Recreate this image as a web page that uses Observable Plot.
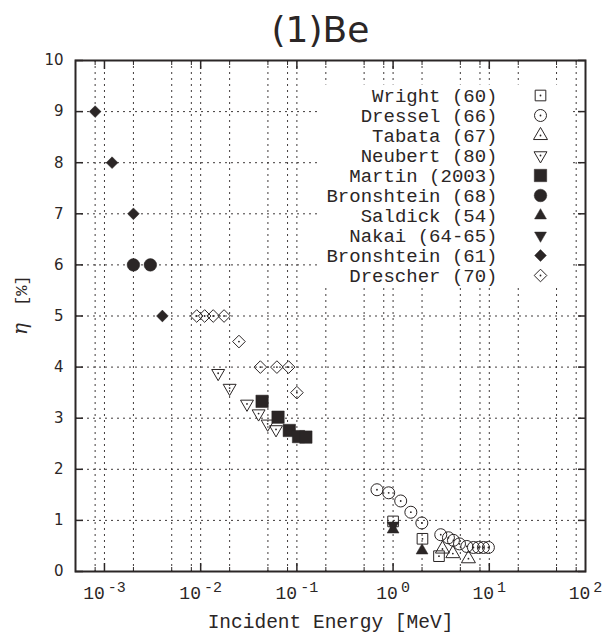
<!DOCTYPE html>
<html>
<head>
<meta charset="utf-8">
<script src="https://cdn.jsdelivr.net/npm/d3@7"></script>
<script src="https://cdn.jsdelivr.net/npm/@observablehq/plot@0.6"></script>
<style>
  body { margin: 0; background: #fff; }
  #chart svg { display: block; background: #fff; }
</style>
</head>
<body>
<div id="chart"></div>
<script>
// Backscattering coefficient η [%] of beryllium vs incident electron energy [MeV]
// Each series: [energy (MeV), eta (%)]
const wright60 = [[1.0, 0.98], [2.02, 0.64], [3.0, 0.30]];
const dressel66 = [[0.68, 1.60], [0.90, 1.54], [1.2, 1.38], [1.53, 1.16], [1.99, 0.95],
  [3.13, 0.72], [3.76, 0.66], [4.24, 0.61], [4.9, 0.54], [5.84, 0.49], [6.84, 0.47],
  [7.71, 0.47], [8.69, 0.47], [9.79, 0.47]];
const tabata67 = [[3.26, 0.44], [4.18, 0.35], [6.07, 0.25]];
const neubert80 = [[0.0152, 3.88], [0.020, 3.59], [0.0303, 3.28], [0.040, 3.09],
  [0.0497, 2.89], [0.0607, 2.78]];
const martin2003 = [[0.0435, 3.33], [0.0637, 3.02], [0.0834, 2.76], [0.104, 2.64], [0.124, 2.63]];
const bronshtein68 = [[0.002, 6.0], [0.003, 6.0]];
const saldick54 = [[1.0, 0.82], [2.0, 0.41]];
const nakai6465 = [[1.0, 0.90]];
const bronshtein61 = [[0.0008, 9.0], [0.0012, 8.0], [0.002, 7.0], [0.004, 5.0]];
const drescher70 = [[0.0091, 5.0], [0.011, 5.0], [0.0135, 5.0], [0.0175, 5.0], [0.025, 4.5],
  [0.0417, 4.0], [0.062, 4.0], [0.082, 4.0], [0.1, 3.5]];

const seriesNames = ["Wright (60)", "Dressel (66)", "Tabata (67)", "Neubert (80)", "Martin (2003)",
  "Bronshtein (68)", "Saldick (54)", "Nakai (64-65)", "Bronshtein (61)", "Drescher (70)"];
const seriesData = [wright60, dressel66, tabata67, neubert80, martin2003,
  bronshtein68, saldick54, nakai6465, bronshtein61, drescher70];

// Axis ticks
const majorE = [1e-3, 1e-2, 1e-1, 1, 10];
const minorE = [8e-4, 2e-3, 5e-3, 8e-3, 2e-2, 5e-2, 8e-2, 0.2, 0.5, 0.8, 2, 5, 8, 20, 50, 80];
const etaTicks = [0, 1, 2, 3, 4, 5, 6, 7, 8, 9, 10];
const etaGrid = [1, 2, 3, 4, 5, 6, 7, 8, 9];

const INK = "#2b2626";
const MONO = "Liberation Mono";

// Marker style per series (same order as seriesNames)
const styles = [
  {symbol: "square", r: 6.0, filled: false},
  {symbol: "circle", r: 6.0, filled: false},
  {symbol: "triangle", r: 5.2, filled: false},
  {symbol: "triangle", r: 4.8, filled: false, rotate: 180},
  {symbol: "square", r: 7.0, filled: true},
  {symbol: "circle", r: 6.3, filled: true},
  {symbol: "triangle", r: 4.4, filled: true},
  {symbol: "triangle", r: 4.4, filled: true, rotate: 180},
  {symbol: "diamond2", r: 5.3, filled: true},
  {symbol: "diamond2", r: 5.7, filled: false}
];

function dotOptions(st, extra) {
  return {
    symbol: st.symbol,
    r: st.r,
    rotate: st.rotate || 0,
    fill: st.filled ? INK : "none",
    stroke: INK,
    strokeWidth: st.filled ? 0.5 : 1,
    ...extra
  };
}

const marks = [];

// dotted grid
marks.push(Plot.gridX([...majorE, ...minorE], {stroke: INK, strokeOpacity: 0.9, strokeDasharray: "2,4", strokeWidth: 1}));
marks.push(Plot.gridY(etaGrid, {stroke: INK, strokeOpacity: 0.9, strokeDasharray: "2,4", strokeWidth: 1}));

// white legend panel
marks.push(Plot.frame({fill: "white", stroke: "none", insetLeft: 243, insetTop: 24, insetRight: 13, insetBottom: 284}));

// data points
seriesData.forEach((data, i) => {
  const st = styles[i];
  marks.push(Plot.dot(data, dotOptions(st, {x: d => d[0], y: d => d[1]})));
  if (!st.filled) {
    marks.push(Plot.dot(data, {x: d => d[0], y: d => d[1], r: 0.9, fill: INK, stroke: "none"}));
  }
});

// legend rows
seriesNames.forEach((name, i) => {
  const st = styles[i];
  const dy = 35 + 20 * i;
  marks.push(Plot.text([name], {
    text: d => d, frameAnchor: "top-right", dx: -88, dy,
    textAnchor: "end", lineAnchor: "middle",
    fontFamily: MONO, fontSize: 19, fill: INK
  }));
  marks.push(Plot.dot([name], dotOptions(st, {frameAnchor: "top-right", dx: -45, dy})));
  if (!st.filled) {
    marks.push(Plot.dot([name], {frameAnchor: "top-right", dx: -45, dy, r: 0.9, fill: INK, stroke: "none"}));
  }
});

// inward tick marks on all four sides
marks.push(Plot.axisX(majorE, {anchor: "bottom", tickSize: 8, dy: -8, fill: "none", stroke: INK, strokeWidth: 1.5, label: null}));
marks.push(Plot.axisX(majorE, {anchor: "top", tickSize: 8, dy: 8, fill: "none", stroke: INK, strokeWidth: 1.5, label: null}));
marks.push(Plot.axisX(minorE, {anchor: "bottom", tickSize: 4, dy: -4, fill: "none", stroke: INK, strokeWidth: 1, label: null}));
marks.push(Plot.axisX(minorE, {anchor: "top", tickSize: 4, dy: 4, fill: "none", stroke: INK, strokeWidth: 1, label: null}));
marks.push(Plot.axisY(etaTicks, {anchor: "left", tickSize: 8, dx: 8, fill: "none", stroke: INK, strokeWidth: 1.5, label: null}));
marks.push(Plot.axisY(etaTicks, {anchor: "right", tickSize: 8, dx: -8, fill: "none", stroke: INK, strokeWidth: 1.5, label: null}));

// tick labels
marks.push(Plot.axisY(etaTicks, {
  anchor: "left", tickSize: 0, tickPadding: 12, label: null,
  tickFormat: d => String(d),
  fontFamily: "DejaVu Sans", fontSize: 15, fill: INK
}));
marks.push(Plot.axisX([...majorE, 100], {
  anchor: "bottom", tickSize: 0, tickPadding: 15, label: null,
  tickFormat: d => "10^" + Math.round(Math.log10(d)),
  fontFamily: MONO, fontSize: 18, fill: INK
}));

// axis titles and chart title
marks.push(Plot.text(["Incident Energy [MeV]"], {
  text: d => d, frameAnchor: "bottom", dy: 50, lineAnchor: "middle",
  fontFamily: MONO, fontSize: 19.5, fill: INK
}));
marks.push(Plot.text(["η"], {
  text: d => d, frameAnchor: "left", dx: -55, dy: 19, rotate: -90, lineAnchor: "middle",
  fontFamily: "DejaVu Serif", fontStyle: "italic", fontSize: 20, fill: INK
}));
marks.push(Plot.text(["[%]"], {
  text: d => d, frameAnchor: "left", dx: -54, dy: -10, rotate: -90, lineAnchor: "middle",
  fontFamily: MONO, fontSize: 17, fill: INK
}));
marks.push(Plot.text(["(1)Be"], {
  text: d => d, frameAnchor: "top", dx: -10, dy: -30, lineAnchor: "middle",
  fontFamily: "DejaVu Sans", fontSize: 36, fill: INK
}));

// plot border
marks.push(Plot.frame({stroke: INK, strokeWidth: 2}));

const chart = Plot.plot({
  width: 602,
  height: 638,
  marginTop: 60,
  marginLeft: 75,
  marginRight: 17,
  marginBottom: 67,
  style: {background: "#fff", overflow: "visible"},
  x: {type: "log", domain: [5e-4, 100]},
  y: {domain: [0, 10]},
  marks
});

// exponent rendering for the decade labels: "10^k" -> 10 with raised k
d3.select(chart).selectAll('g[aria-label="x-axis tick label"] text').each(function () {
  const parts = this.textContent.split("^");
  if (parts.length !== 2) return;
  const t = d3.select(this);
  t.text(null);
  t.append("tspan").text(parts[0]);
  t.append("tspan").attr("dx", 3).attr("dy", "-0.5em").attr("font-size", 15).text(parts[1]);
});

document.getElementById("chart").append(chart);
</script>
</body>
</html>
